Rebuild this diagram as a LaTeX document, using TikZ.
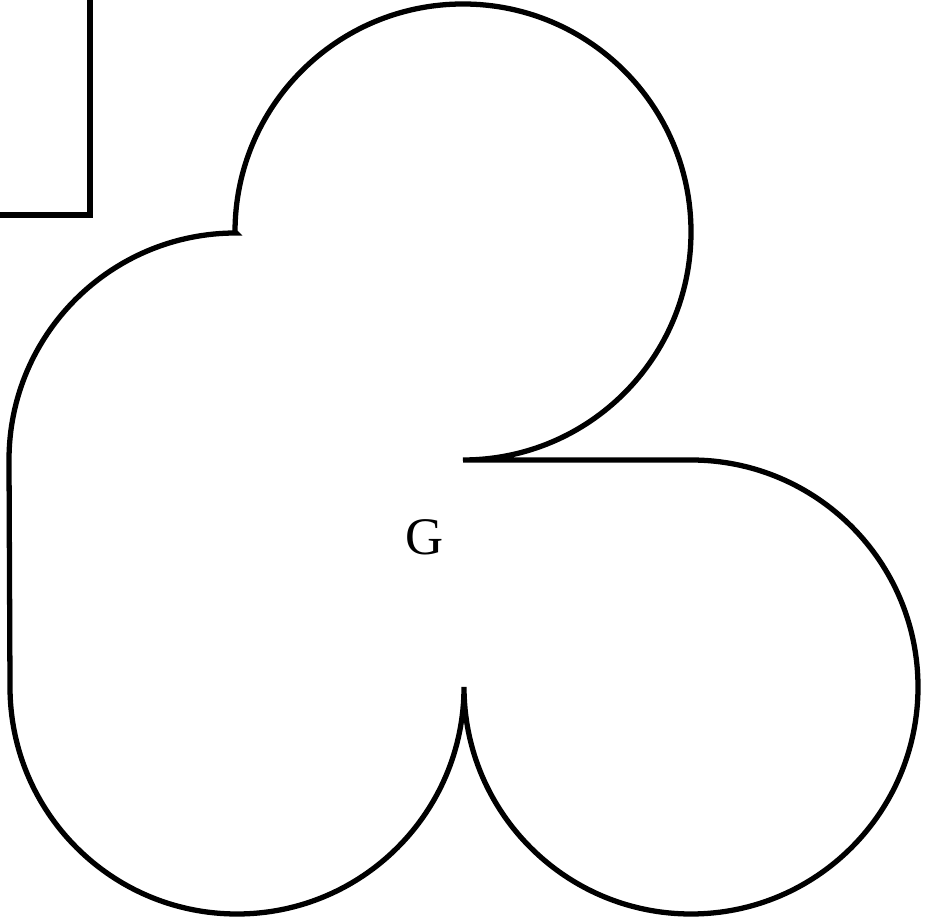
\documentclass[tikz,border=0pt]{standalone}
\usepackage{fontspec}
\setmainfont{Liberation Serif}
\usetikzlibrary{positioning}

\begin{document}
\begin{tikzpicture}[x=0.01cm,y=0.01cm,
  outline/.style={draw=black,line width=1.5pt,line join=miter},
  lbl/.style={font=\fontsize{15}{17}\selectfont,inner sep=0pt}]
\useasboundingbox (0,0) rectangle (931,919);

% ============ corner of the frame ============
\draw[outline] (-20,704) -- (90,704) -- (90,940);

% ============ the three-lobed outline ============
\coordinate (lobe) at (235,687);
\draw[outline] (lobe)
  arc[start angle=180,end angle=-90,radius=228]   % top lobe
  -- (691,459)
  arc[start angle=90,end angle=-180,radius=227]   % right lobe
  arc[start angle=0,end angle=-180,radius=227]    % bottom-left lobe
  -- (9,459)
  arc[start angle=180,end angle=90,radius=227]
  -- (lobe);

\node[lbl] (g) at (425,382) {G};

\end{tikzpicture}
\end{document}
